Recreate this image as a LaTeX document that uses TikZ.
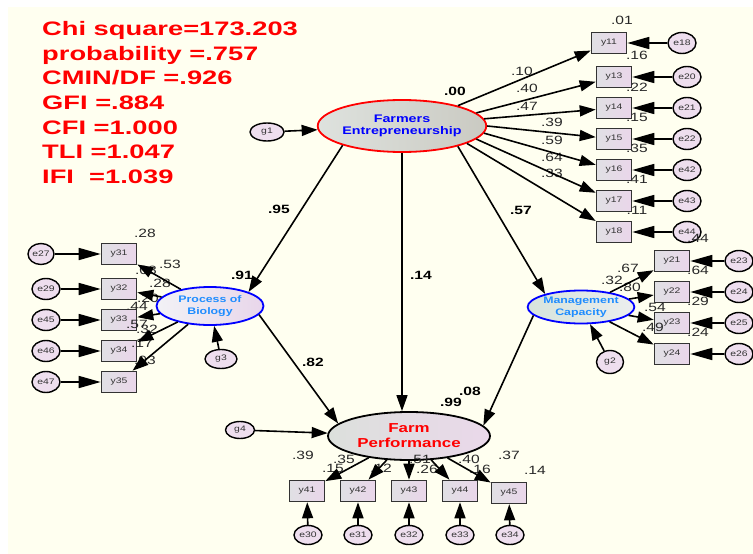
\documentclass[tikz,border=0pt]{standalone}
\usepackage{fontspec}
\setmainfont[FakeStretch=1.3]{Liberation Sans}
\newfontfamily\fitfont[FakeStretch=1.4]{Liberation Sans}
\usetikzlibrary{shapes.geometric,arrows.meta}
\definecolor{ivory}{RGB}{255,255,240}
\definecolor{lav}{RGB}{234,214,234}
\definecolor{boxgrey}{RGB}{224,224,228}
\definecolor{errfill}{RGB}{238,222,238}
\definecolor{labgrey}{RGB}{40,40,40}
\definecolor{lblue}{RGB}{30,140,255}
\definecolor{fitred}{RGB}{255,0,0}
\tikzset{
  obs/.style={draw=black!80, line width=1.6pt, rectangle, minimum width=35pt, minimum height=21pt,
    inner sep=0pt, left color=boxgrey, right color=lav, font=\fontsize{8}{9}\selectfont, text=black!80},
  err/.style={draw=black, line width=1.4pt, ellipse, minimum width=28pt, minimum height=21pt,
    inner sep=0pt, fill=errfill, font=\fontsize{8}{9}\selectfont, text=black!80},
  lat/.style={ellipse, line width=1.8pt, inner sep=0pt, align=center},
  arr/.style={-{Triangle[length=16pt,width=11pt]}, line width=1.6pt},
  harr/.style={-{Triangle[length=22pt,width=12pt]}, line width=1.6pt},
  num/.style={font=\fontsize{12}{13}\selectfont, text=labgrey, inner sep=0pt},
  bnum/.style={font=\bfseries\fontsize{12}{13}\selectfont, text=black, inner sep=0pt},
  fit/.style={font=\fitfont\bfseries\fontsize{19.5}{24}\selectfont, text=fitred, anchor=base west, inner sep=0pt},
}
\begin{document}
\begin{tikzpicture}[x=1pt,y=-1pt]
\useasboundingbox (0,0) rectangle (753,554);
\fill[ivory] (8,7) rectangle (753,554);

% fit statistics
\node[fit] (f1) at (42,35) {Chi square=173.203};
\node[fit] (f2) at (42,60) {probability =.757};
\node[fit] (f3) at (42,84.5) {CMIN/DF =.926};
\node[fit] (f4) at (42,109) {GFI =.884};
\node[fit] (f5) at (42,134) {CFI =1.000};
\node[fit] (f6) at (42,158.5) {TLI =1.047};
\node[fit] (f7) at (42,183) {IFI~ =1.039};

% latent variables
\node[lat, draw=red, left color={rgb,255:red,222;green,226;blue,222}, right color={rgb,255:red,202;green,202;blue,194},
  minimum width=160pt, minimum height=52pt, text=blue,
  font=\bfseries\fontsize{11}{12.5}\selectfont] (fe) at (402,126) {Farmers\\Entrepreneurship};
\node[lat, draw=blue, left color={rgb,255:red,242;green,242;blue,246}, right color={rgb,255:red,232;green,214;blue,234},
  minimum width=107pt, minimum height=38pt, text=lblue,
  font=\bfseries\fontsize{9.5}{11.5}\selectfont] (pb) at (210,306) {Process of\\Biology};
\node[lat, draw=blue, left color={rgb,255:red,214;green,228;blue,220}, right color={rgb,255:red,236;green,238;blue,238},
  minimum width=95pt, minimum height=33pt, text=lblue,
  font=\bfseries\fontsize{9.5}{11.5}\selectfont] (mc) at (581,307) {Management\\Capacity};
\node[lat, draw=black, left color={rgb,255:red,220;green,224;blue,220}, right color={rgb,255:red,234;green,216;blue,234},
  minimum width=162pt, minimum height=48pt, text=red,
  font=\bfseries\fontsize{13}{15}\selectfont] (fp) at (409,436) {Farm\\Performance};

% disturbances
\node[err, minimum width=34pt, minimum height=18pt] (g1) at (267,132) {g1};
\node[err, minimum width=32pt, minimum height=19pt] (g3) at (221,359) {g3};
\node[err, minimum width=27pt, minimum height=23pt] (g2) at (610,362) {g2};
\node[err, minimum width=29pt, minimum height=17pt] (g4) at (240,430) {g4};

% FE indicators
\node[obs] (y11) at (609,43) {y11};
\node[obs] (y13) at (614,77) {y13};
\node[obs] (y14) at (614,108) {y14};
\node[obs] (y15) at (614,139) {y15};
\node[obs] (y16) at (614,170) {y16};
\node[obs] (y17) at (614,201) {y17};
\node[obs] (y18) at (614,232) {y18};
\node[err] (e18) at (682,43) {e18};
\node[err] (e20) at (687,77) {e20};
\node[err] (e21) at (687,108) {e21};
\node[err] (e22) at (687,139) {e22};
\node[err] (e42) at (687,170) {e42};
\node[err] (e43) at (687,201) {e43};
\node[err] (e44) at (687,232) {e44};

% MC indicators
\node[obs] (y21) at (672,261) {y21};
\node[obs] (y22) at (672,292) {y22};
\node[obs] (y23) at (672,323) {y23};
\node[obs] (y24) at (672,354) {y24};
\node[err] (e23) at (739,261) {e23};
\node[err] (e24) at (739,292) {e24};
\node[err] (e25) at (739,323) {e25};
\node[err] (e26) at (739,354) {e26};

% PB indicators
\node[obs] (y31) at (119,254) {y31};
\node[obs] (y32) at (119,289) {y32};
\node[obs] (y33) at (119,320) {y33};
\node[obs] (y34) at (119,351) {y34};
\node[obs] (y35) at (119,382) {y35};
\node[err, minimum width=26pt] (e27) at (41,254) {e27};
\node[err] (e29) at (46,289) {e29};
\node[err] (e45) at (46,320) {e45};
\node[err] (e46) at (46,351) {e46};
\node[err] (e47) at (46,382) {e47};

% FP indicators
\node[obs] (y41) at (307,491) {y41};
\node[obs] (y42) at (358,491) {y42};
\node[obs] (y43) at (409,491) {y43};
\node[obs] (y44) at (460,491) {y44};
\node[obs] (y45) at (509,493) {y45};
\node[err, minimum height=19pt] (e30) at (308,535) {e30};
\node[err, minimum height=19pt] (e31) at (358,535) {e31};
\node[err, minimum height=19pt] (e32) at (409,535) {e32};
\node[err, minimum height=19pt] (e33) at (460,535) {e33};
\node[err, minimum height=19pt] (e34) at (510,535) {e34};

% labels
\node[bnum] (l00) at (455,91) {.00};
\node[bnum] (l95) at (279,209) {.95};
\node[bnum] (l14) at (421,275) {.14};
\node[bnum] (l57) at (521,210) {.57};
\node[bnum] (l91) at (242,275) {.91};
\node[bnum] (l82) at (313,362) {.82};
\node[bnum] (l08) at (470,391) {.08};
\node[bnum] (l99) at (451,402) {.99};

\node[num] at (522,71) {.10};
\node[num] at (527,88) {.40};
\node[num] at (527,106) {.47};
\node[num] at (552,122) {.39};
\node[num] at (552,140) {.59};
\node[num] at (552,157) {.64};
\node[num] at (552,173) {.33};
\node[num] at (622,20) {.01};
\node[num] at (637,55) {.16};
\node[num] at (637,87) {.22};
\node[num] at (637,117) {.15};
\node[num] at (637,148) {.35};
\node[num] at (637,179) {.41};
\node[num] at (637,210) {.11};

\node[num] at (628,268) {.67};
\node[num] at (612,280) {.32};
\node[num] at (630,287) {.80};
\node[num] at (655,307) {.54};
\node[num] at (653,327) {.49};
\node[num] at (698,238) {.44};
\node[num] at (698,270) {.64};
\node[num] at (698,301) {.29};
\node[num] at (698,332) {.24};

\node[num] at (145,233) {.28};
\node[num] at (170,264) {.53};
\node[num] at (146,270) {.08};
\node[num] at (160,283) {.28};
\node[num] at (148,298) {.20};
\node[num] at (137,306) {.44};
\node[num] at (137,324) {.57};
\node[num] at (147,329) {.32};
\node[num] at (142,343) {.17};
\node[num] at (145,360) {.03};

\node[num] at (303,455) {.39};
\node[num] at (333,468) {.15};
\node[num] at (344,459) {.35};
\node[num] at (381,468) {.12};
\node[num] at (420,459) {.51};
\node[num] at (427,469) {.26};
\node[num] at (469,459) {.40};
\node[num] at (480,469) {.16};
\node[num] at (509,455) {.37};
\node[num] at (535,470) {.14};

% structural paths
\draw[arr] (fe.198) -- (pb.20);
\draw[arr] (fe.south) -- (fe.south |- fp.north);
\draw[arr] (fe.-20) -- (mc.160);
\draw[arr] (pb.-10) -- (fp.170);
\draw[arr] (mc.190) -- (fp.8);
\draw[arr] (g1) -- (fe);
\draw[arr] (g3) -- (pb);
\draw[arr] (g2) -- (mc);
\draw[arr] (g4) -- (fp);

% measurement paths
\draw[arr] (fe.20) -- (y11);
\draw[arr] (fe.10) -- (y13);
\draw[arr] (fe.5) -- (y14);
\draw[arr] (fe.0) -- (y15);
\draw[arr] (fe.-5) -- (y16);
\draw[arr] (fe.-10) -- (y17);
\draw[arr] (fe.-15) -- (y18);
\foreach \y in {y21,y22,y23,y24} \draw[arr] (mc) -- (\y);
\foreach \y in {y31,y32,y33,y34,y35} \draw[arr] (pb) -- (\y);
\foreach \y in {y41,y42,y43,y44,y45} \draw[arr] (fp) -- (\y);

\draw[harr] (e18) -- (y11);
\draw[harr] (e20) -- (y13);
\draw[harr] (e21) -- (y14);
\draw[harr] (e22) -- (y15);
\draw[harr] (e42) -- (y16);
\draw[harr] (e43) -- (y17);
\draw[harr] (e44) -- (y18);
\draw[harr] (e23) -- (y21);
\draw[harr] (e24) -- (y22);
\draw[harr] (e25) -- (y23);
\draw[harr] (e26) -- (y24);
\draw[harr] (e27) -- (y31);
\draw[harr] (e29) -- (y32);
\draw[harr] (e45) -- (y33);
\draw[harr] (e46) -- (y34);
\draw[harr] (e47) -- (y35);
\draw[arr] (e30) -- (y41);
\draw[arr] (e31) -- (y42);
\draw[arr] (e32) -- (y43);
\draw[arr] (e33) -- (y44);
\draw[arr] (e34) -- (y45);
\end{tikzpicture}
\end{document}
